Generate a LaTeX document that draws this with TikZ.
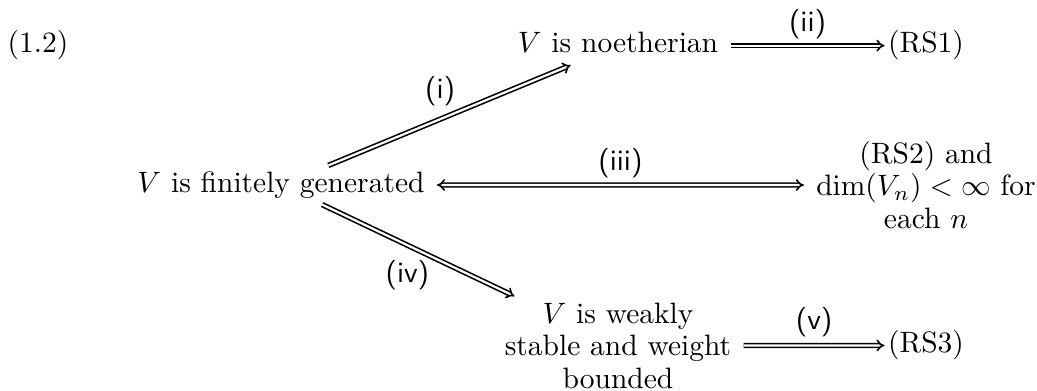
\documentclass[tikz,border=0pt]{standalone}
\usetikzlibrary{arrows.meta}
\begin{document}
\begin{tikzpicture}[x={(0.33898pt,0)}, y={(0,-0.33898pt)},
  txt/.style={inner xsep=4pt, inner ysep=2pt, text height=6.94pt, text depth=1.94pt},
  tight/.style={inner xsep=1pt, inner ysep=2pt, text height=7.5pt, text depth=2.5pt},
  blk/.style={inner xsep=4pt, inner ysep=2pt, align=center, font=\fontsize{10}{11}\selectfont},
  imp/.style={double, double distance=0.75pt, line width=0.55pt, -{Implies}},
  lab/.style={font=\sffamily, inner sep=0pt}]
\useasboundingbox (0,0) rectangle (1037,391);
\node[anchor=base west, inner sep=0pt] (eq) at (7,53) {(1.2)};
\node[txt, anchor=base] (N) at (618,53) {$V$ is noetherian};
\node[tight, anchor=base] (R1) at (926,53) {(RS1)};
\node[txt, anchor=base] (A) at (281,192.4) {$V$ is finitely generated};
\node[blk] (R2) at (926,185) {(RS2) and\\ $\dim(V_n)<\infty$ for\\ each $n$};
\node[blk] (B) at (618,345.5) {$V$ is weakly\\ stable and weight\\ bounded};
\node[tight, anchor=base] (R3) at (926,352.9) {(RS3)};
\draw[imp] (N) -- node[lab, yshift=7.2pt]{(ii)} (R1);
\draw[imp] (A) -- node[lab, xshift=-3.2pt, yshift=8.3pt]{(i)} (N);
\draw[imp, {Implies}-{Implies}] (A) -- node[lab, yshift=7.5pt]{(iii)} (R2);
\draw[imp] (A) -- node[lab, xshift=-3.7pt, yshift=-8.3pt]{(iv)} (B);
\draw[imp] (B) -- node[lab, yshift=8pt]{(v)} (R3);
\end{tikzpicture}
\end{document}
